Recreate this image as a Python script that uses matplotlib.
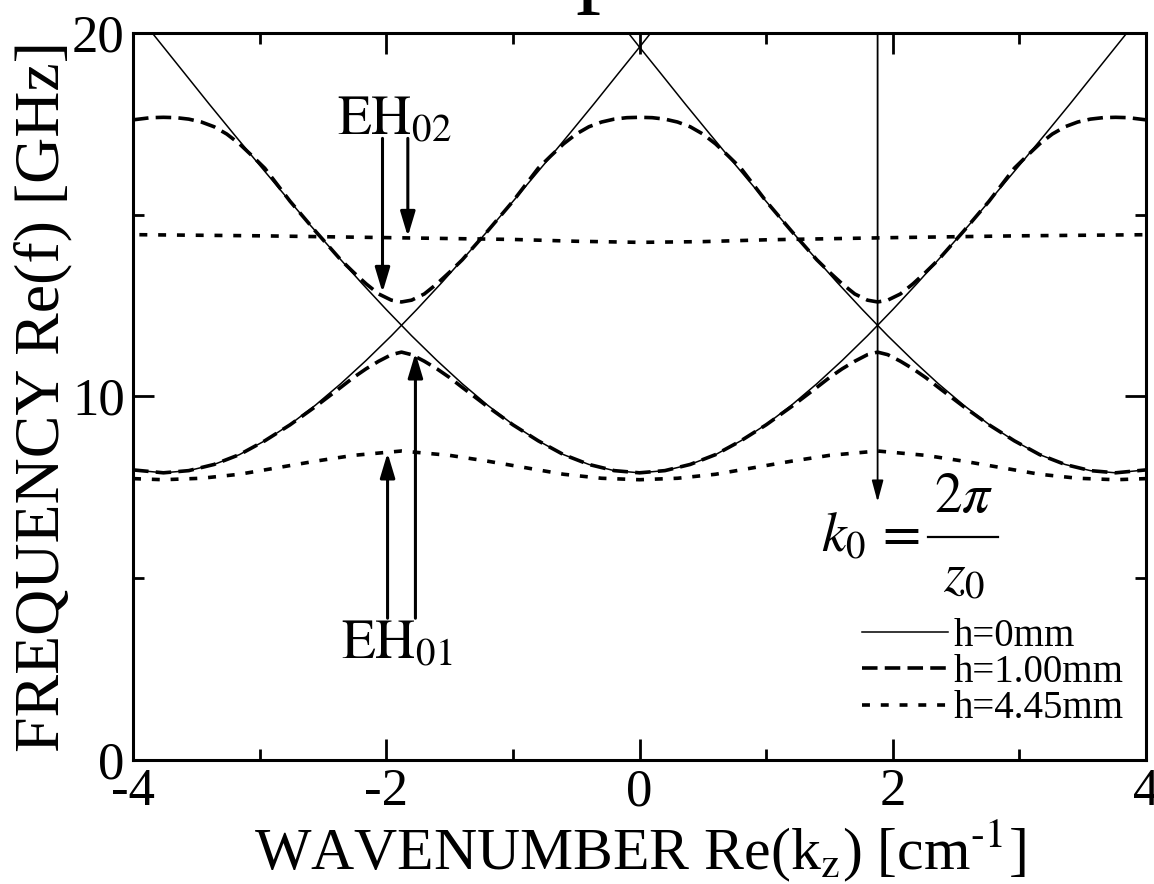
import matplotlib
matplotlib.use("Agg")
import matplotlib.pyplot as plt
from matplotlib.lines import Line2D

plt.rcParams['font.family'] = ['Liberation Serif', 'DejaVu Serif']
plt.rcParams['mathtext.fontset'] = 'stix'
plt.rcParams['axes.unicode_minus'] = False

# h = 0 mm : three space harmonics of the smooth guide
k_solid_mid = [-3.86, -3.6, -3.4, -3.2, -3.0, -2.8, -2.6, -2.4, -2.2, -2.0, -1.8, -1.6, -1.4,
               -1.2, -1.0, -0.8, -0.6, -0.4, -0.2, 0.0, 0.2, 0.4, 0.6, 0.8, 1.0, 1.2, 1.4,
               1.6, 1.8, 2.0, 2.2, 2.4, 2.6, 2.8, 3.0, 3.2, 3.4, 3.6, 3.86]
f_solid_mid = [20.05, 18.92, 18.05, 17.20, 16.36, 15.53, 14.71, 13.92, 13.14, 12.39, 11.67, 10.99,
               10.35, 9.76, 9.23, 8.78, 8.40, 8.13, 7.96, 7.90, 7.96, 8.13, 8.40, 8.78, 9.23, 9.76,
               10.35, 10.99, 11.67, 12.39, 13.14, 13.92, 14.71, 15.53, 16.36, 17.20, 18.05, 18.92, 20.05]
k_solid_left = [-4.0, -3.76, -3.56, -3.36, -3.16, -2.96, -2.76, -2.56, -2.36, -2.16, -1.96,
                -1.76, -1.56, -1.36, -1.16, -0.96, -0.76, -0.56, -0.36, -0.16, 0.0, 0.1]
f_solid_left = [7.98, 7.90, 7.96, 8.13, 8.40, 8.78, 9.23, 9.76, 10.35, 10.99, 11.67,
                12.39, 13.14, 13.92, 14.71, 15.53, 16.36, 17.20, 18.05, 18.92, 19.61, 20.05]
k_solid_right = [-0.1, 0.0, 0.16, 0.36, 0.56, 0.76, 0.96, 1.16, 1.36, 1.56, 1.76,
                 1.96, 2.16, 2.36, 2.56, 2.76, 2.96, 3.16, 3.36, 3.56, 3.76, 4.0]
f_solid_right = [20.05, 19.61, 18.92, 18.05, 17.20, 16.36, 15.53, 14.71, 13.92, 13.14, 12.39,
                 11.67, 10.99, 10.35, 9.76, 9.23, 8.78, 8.40, 8.13, 7.96, 7.90, 7.98]

# h = 1.00 mm : EH01 and EH02 bands
k_dash_low = [-4.0, -3.76, -3.56, -3.36, -3.16, -2.96, -2.76, -2.56, -2.36, -2.26, -2.16, -2.06,
              -1.96, -1.88, -1.8, -1.7, -1.6, -1.5, -1.4, -1.2, -1.0, -0.8, -0.6, -0.4, -0.2,
              0.0, 0.2, 0.4, 0.6, 0.8, 1.0, 1.2, 1.4, 1.5, 1.6, 1.7, 1.8, 1.88, 1.96, 2.06,
              2.16, 2.26, 2.36, 2.56, 2.76, 2.96, 3.16, 3.36, 3.56, 3.76, 4.0]
f_dash_low = [7.98, 7.90, 7.96, 8.13, 8.40, 8.78, 9.22, 9.72, 10.25, 10.52, 10.76, 10.97,
              11.15, 11.22, 11.15, 10.97, 10.76, 10.52, 10.25, 9.72, 9.22, 8.78, 8.40, 8.13, 7.96,
              7.90, 7.96, 8.13, 8.40, 8.78, 9.22, 9.72, 10.25, 10.52, 10.76, 10.97, 11.15, 11.22,
              11.15, 10.97, 10.76, 10.52, 10.25, 9.72, 9.22, 8.78, 8.40, 8.13, 7.96, 7.90, 7.98]
k_dash_up = [-4.0, -3.86, -3.76, -3.66, -3.56, -3.46, -3.36, -3.26, -3.16, -3.06, -2.96, -2.76,
             -2.56, -2.36, -2.26, -2.16, -2.06, -1.96, -1.88, -1.8, -1.7, -1.6, -1.5, -1.4, -1.2,
             -1.0, -0.8, -0.7, -0.6, -0.5, -0.4, -0.3, -0.2, -0.1, 0.0, 0.1, 0.2, 0.3, 0.4, 0.5,
             0.6, 0.7, 0.8, 1.0, 1.2, 1.4, 1.5, 1.6, 1.7, 1.8, 1.88, 1.96, 2.06, 2.16, 2.26,
             2.36, 2.56, 2.76, 2.96, 3.06, 3.16, 3.26, 3.36, 3.46, 3.56, 3.66, 3.76, 3.86, 4.0]
f_dash_up = [17.61, 17.67, 17.68, 17.67, 17.63, 17.55, 17.42, 17.22, 16.95, 16.62, 16.28, 15.37,
             14.55, 13.76, 13.42, 13.1, 12.82, 12.65, 12.60, 12.65, 12.82, 13.1, 13.42, 13.76, 14.55,
             15.37, 16.28, 16.62, 16.95, 17.22, 17.42, 17.55, 17.63, 17.67, 17.68, 17.67, 17.63,
             17.55, 17.42, 17.22, 16.95, 16.62, 16.28, 15.37, 14.55, 13.76, 13.42, 13.1, 12.82,
             12.65, 12.60, 12.65, 12.82, 13.1, 13.42, 13.76, 14.55, 15.37, 16.28, 16.62, 16.95,
             17.22, 17.42, 17.55, 17.63, 17.67, 17.68, 17.67, 17.61]

# h = 4.45 mm : nearly flat bands
k_dot_low = [-4.0, -3.76, -3.46, -3.16, -2.86, -2.56, -2.26, -1.88, -1.5, -1.2, -0.9, -0.6, -0.3,
             0.0, 0.3, 0.6, 0.9, 1.2, 1.5, 1.88, 2.26, 2.56, 2.86, 3.16, 3.46, 3.76, 4.0]
f_dot_low = [7.74, 7.71, 7.75, 7.86, 8.04, 8.22, 8.38, 8.50, 8.38, 8.22, 8.04, 7.86, 7.75,
             7.71, 7.75, 7.86, 8.04, 8.22, 8.38, 8.50, 8.38, 8.22, 8.04, 7.86, 7.75, 7.71, 7.74]
k_dot_up = [-3.95, -3.0, -2.0, -1.0, -0.5, 0.0, 0.5, 1.0, 2.0, 3.0, 4.0]
f_dot_up = [14.45, 14.42, 14.37, 14.32, 14.27, 14.24, 14.26, 14.31, 14.37, 14.42, 14.45]

legend_labels = ['h=0mm', 'h=1.00mm', 'h=4.45mm']

fig = plt.figure(figsize=(11.54, 8.84), dpi=100)
ax = fig.add_axes([0.1153, 0.1403, 0.8778, 0.8224])

solid = dict(color='black', lw=1.1, ls='-')
dashed = dict(color='black', lw=2.6, ls=(0, (4.3, 2.0)))
dotted = dict(color='black', lw=2.6, ls=(0, (2.2, 3.0)))

l0, = ax.plot(k_solid_mid, f_solid_mid, label=legend_labels[0], **solid)
ax.plot(k_solid_left, f_solid_left, **solid)
ax.plot(k_solid_right, f_solid_right, **solid)
l1, = ax.plot(k_dash_low, f_dash_low, label=legend_labels[1], **dashed)
ax.plot(k_dash_up, f_dash_up, **dashed)
l2, = ax.plot(k_dot_low, f_dot_low, label=legend_labels[2], **dotted)
ax.plot(k_dot_up, f_dot_up, **dotted)

ax.set_xlim(-4, 4)
ax.set_ylim(0, 20)
ax.set_xticks([-4, -2, 0, 2, 4])
ax.set_xticks([-3, -1, 1, 3], minor=True)
ax.set_yticks([0, 10, 20])
ax.set_yticks([5, 15], minor=True)
ax.tick_params(which='both', direction='in', top=True, right=True, width=2.0)
ax.tick_params(which='major', length=15, labelsize=38, pad=6)
ax.tick_params(which='minor', length=8)
for s in ax.spines.values():
    s.set_linewidth(2.2)

ax.set_xlabel(r'WAVENUMBER Re(k$_\mathrm{z}$) [cm$^{\text{-1}}$]', fontsize=43, labelpad=0)
ax.set_ylabel('FREQUENCY Re(f) [GHz]', fontsize=46, labelpad=0)

# mode arrows
arrow = dict(arrowstyle='-|>,head_length=1.5,head_width=0.45', color='black', lw=2.2,
             shrinkA=0, shrinkB=0)
ax.annotate('', xy=(-2.03, 12.86), xytext=(-2.03, 17.1), arrowprops=arrow)
ax.annotate('', xy=(-1.83, 14.4), xytext=(-1.83, 17.1), arrowprops=arrow)
ax.annotate('', xy=(-1.99, 8.45), xytext=(-1.99, 3.9), arrowprops=arrow)
ax.annotate('', xy=(-1.77, 11.2), xytext=(-1.77, 3.9), arrowprops=arrow)
ax.annotate('', xy=(1.88, 7.1), xytext=(1.88, 20.0),
            arrowprops=dict(arrowstyle='-|>,head_length=1.3,head_width=0.35', color='black',
                            lw=1.3, shrinkA=0, shrinkB=0))

ax.text(-1.94, 17.6, r'$\mathrm{EH}_{02}$', fontsize=40, ha='center', va='center')
ax.text(-1.92, 3.2, r'$\mathrm{EH}_{01}$', fontsize=40, ha='center', va='center')

# period label k0 = 2pi / z0, built as a stacked fraction
ax.text(1.82, 6.14, r'$k_0\,=$', fontsize=40, ha='center', va='center')
ax.text(2.56, 6.5, r'$2\pi$', fontsize=40, ha='center', va='bottom')
ax.text(2.56, 5.75, r'$z_0$', fontsize=40, ha='center', va='top')
ax.add_line(Line2D([2.28, 2.83], [6.14, 6.14], color='black', lw=1.6, clip_on=False))

ax.legend(handles=[l0, l1, l2], loc='lower right', bbox_to_anchor=(0.978, 0.045),
          frameon=False, fontsize=28, handlelength=2.2, handletextpad=0.15,
          labelspacing=-0.02, borderpad=0, borderaxespad=0)

# bottom of the large heading above the plot
fig.text(0.52, 1.0 + 6 / 884, 'p', fontsize=72, ha='center', va='baseline')

fig.savefig('out.png', dpi=100)
